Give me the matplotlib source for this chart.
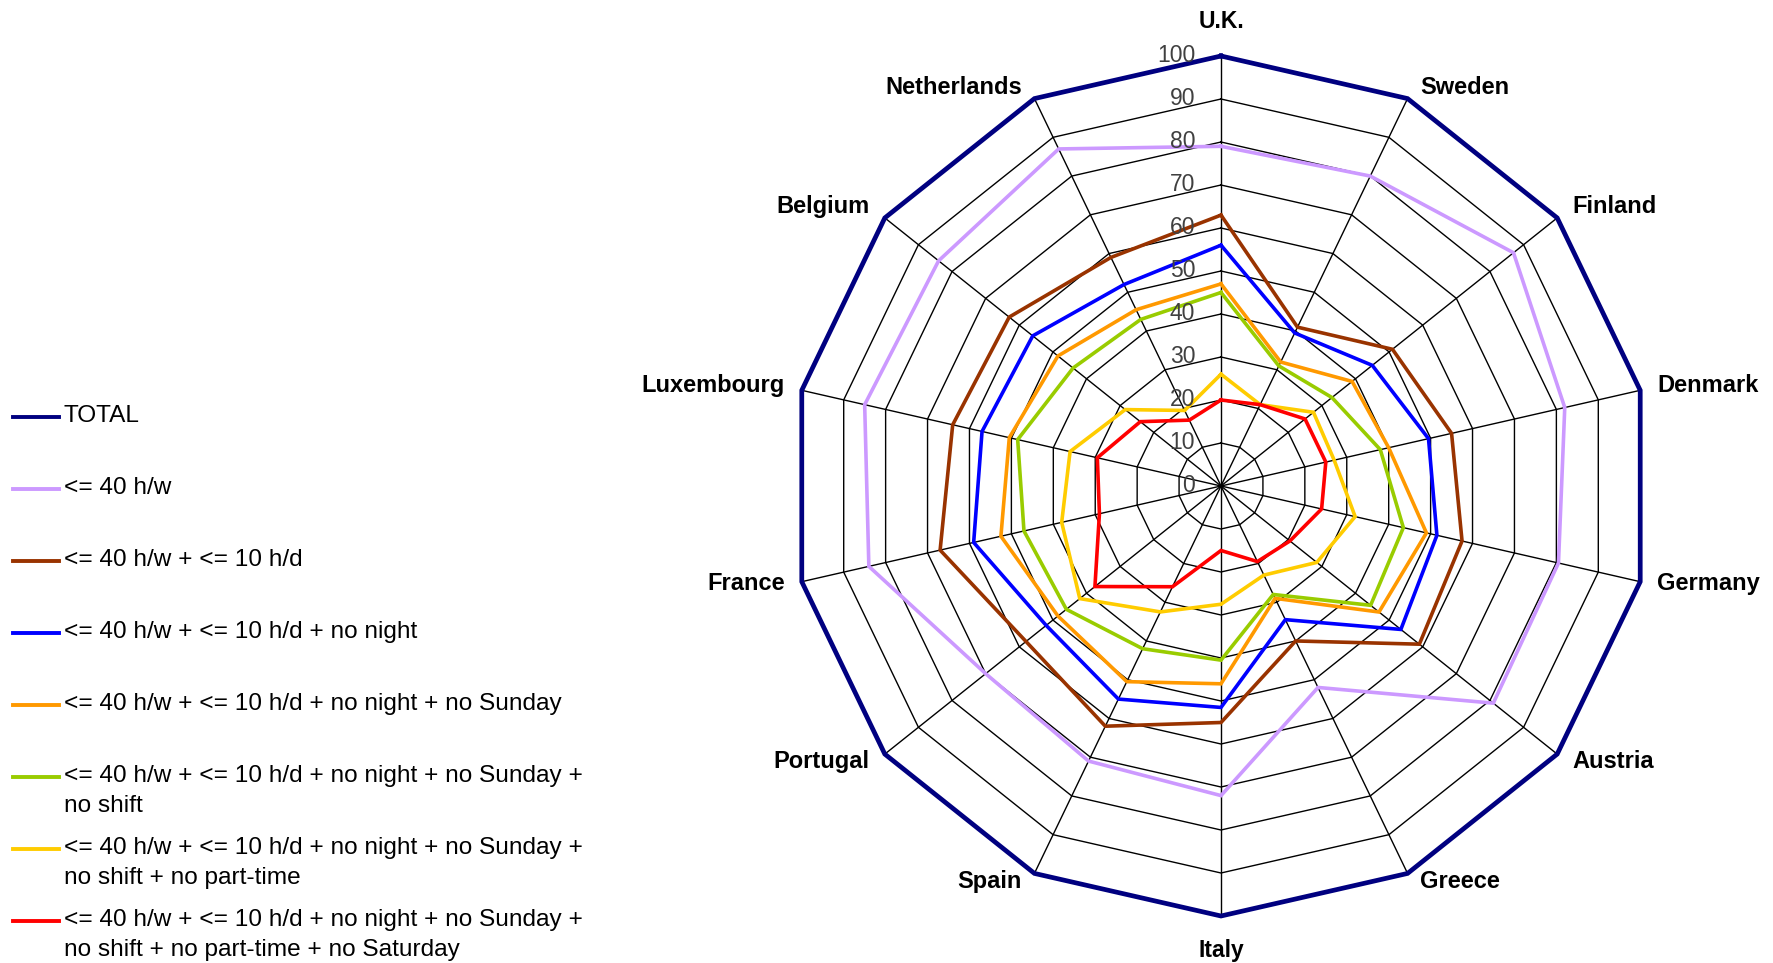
import numpy as np
import matplotlib
matplotlib.use("Agg")
import matplotlib.pyplot as plt
from matplotlib.lines import Line2D

plt.rcParams['font.family'] = ['Liberation Sans', 'DejaVu Sans']

# ── Daten ────────────────────────────────────────────────────────────────────
countries = ["U.K.", "Sweden", "Finland", "Denmark", "Germany", "Austria",
             "Greece", "Italy", "Spain", "Portugal", "France", "Luxembourg",
             "Belgium", "Netherlands"]
ticks = list(range(0, 101, 10))

total       = [100, 100, 100, 100, 100, 100, 100, 100, 100, 100, 100, 100, 100, 100]
h40         = [79, 80, 87, 82, 80.5, 81, 52, 72, 71, 70, 84, 85, 84, 87]
h40_d10     = [63, 41, 51, 55, 57.5, 59, 40, 55, 62, 58, 67, 64, 63, 59]
no_night    = [56, 39.5, 45, 49.5, 51.5, 53.5, 34.5, 51.5, 55, 52, 59, 57, 56, 52]
no_sunday   = [47, 32, 39, 40, 49, 47, 29, 46, 50.5, 48.5, 52.5, 50.5, 48.5, 45.5]
no_shift    = [45, 31, 33, 38, 43.5, 44.5, 28, 40.5, 42, 46, 47, 48.5, 44, 43]
no_parttime = [26, 21, 27.5, 27, 32, 28.5, 23, 27.5, 32.5, 42, 38, 36, 28.5, 19.5]
no_saturday = [20, 21, 25, 25, 24, 20.5, 19.5, 15, 26, 37.5, 29, 29.5, 24, 17]

series_labels = [
    "TOTAL",
    "<= 40 h/w",
    "<= 40 h/w + <= 10 h/d",
    "<= 40 h/w + <= 10 h/d + no night",
    "<= 40 h/w + <= 10 h/d + no night + no Sunday",
    "<= 40 h/w + <= 10 h/d + no night + no Sunday +\nno shift",
    "<= 40 h/w + <= 10 h/d + no night + no Sunday +\nno shift + no part-time",
    "<= 40 h/w + <= 10 h/d + no night + no Sunday +\nno shift + no part-time + no Saturday",
]
series = [total, h40, h40_d10, no_night, no_sunday, no_shift, no_parttime, no_saturday]
colors = ["#000080", "#CC99FF", "#993300", "#0000FF", "#FF9900", "#99CC00",
          "#FFCC00", "#FF0000"]

# ── Layout (Pixel) ───────────────────────────────────────────────────────────
W, H = 1773, 963
CX, CY, R = 1221, 486, 430
PX = R / 100.0

fig = plt.figure(figsize=(W / 100, H / 100), dpi=100, facecolor='white')
ax = fig.add_axes([0, 0, 1, 1])
ax.set_xlim(-CX / PX, (W - CX) / PX)
ax.set_ylim(-(H - CY) / PX, CY / PX)
ax.axis('off')

n = len(countries)
theta = np.arange(n) * 2 * np.pi / n      # im Uhrzeigersinn ab oben
sx, sy = np.sin(theta), np.cos(theta)


def poly(vals):
    v = np.asarray(vals, float)
    return np.append(v * sx, v[0] * sx[0]), np.append(v * sy, v[0] * sy[0])


# Netz
for t in ticks[1:]:
    x, y = poly([t] * n)
    ax.plot(x, y, color='black', lw=1.0, zorder=1)
for i in range(n):
    ax.plot([0, ticks[-1] * sx[i]], [0, ticks[-1] * sy[i]], color='black', lw=1.0, zorder=1)
for t in ticks:
    ax.text(-6, t + 0.2, str(t), ha='right', va='center', fontsize=16.5,
            color='#404040', zorder=3)

# Länder
for i, c in enumerate(countries):
    vx, vy = ticks[-1] * sx[i], ticks[-1] * sy[i]
    if abs(sx[i]) < 1e-6:
        ax.text(0, 108 * sy[i], c, ha='center', va='center', fontsize=16.5,
                fontweight='bold', color='black')
        continue
    dx = (2 + 2 * abs(sx[i])) * np.sign(sx[i])
    dy = float(np.clip(3.5 * sy[i], -2.2, 2.2)) + 0.4
    ax.text(vx + dx, vy + dy, c, ha=('left' if sx[i] > 0 else 'right'),
            va='center', fontsize=17, fontweight='bold', color='black')

# Linien
for k, (vals, col) in enumerate(zip(series, colors)):
    x, y = poly(vals)
    ax.plot(x, y, color=col, lw=3.4 if k == 0 else 2.6, zorder=2 + k * 0.01,
            solid_joinstyle='miter')

# ── Legende ──────────────────────────────────────────────────────────────────
row0, drow = 417, 72
for k, (lab, col) in enumerate(zip(series_labels, colors)):
    yy = row0 + k * drow
    fig.add_artist(Line2D([13 / W, 59 / W], [1 - yy / H, 1 - yy / H],
                          transform=fig.transFigure, color=col, lw=2.8))
    fig.text(64 / W, 1 - (yy - 12) / H, lab, ha='left', va='top',
             fontsize=17.6, color='black', linespacing=1.45)

fig.savefig("out.png", dpi=100, facecolor='white')
